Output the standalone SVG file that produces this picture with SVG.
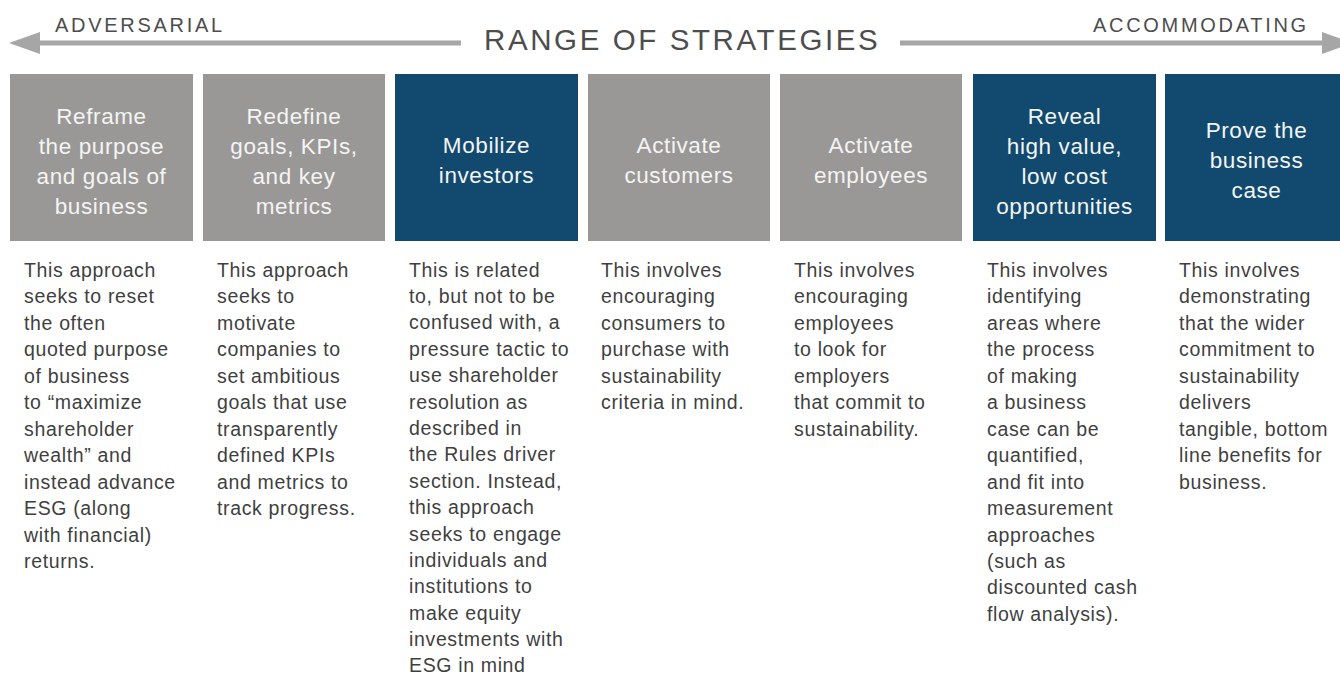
<svg xmlns="http://www.w3.org/2000/svg" width="1340" height="675" viewBox="0 0 1340 675">
<style>
.hdr{font-family:"Liberation Sans",Arial,sans-serif;fill:#4d4d4d}
.side{font-size:20px;letter-spacing:2.7px}
.title{font-size:29.5px;letter-spacing:2.6px}
.gray{fill:#9a9896}
.navy{fill:#114a6e}
.bt{font-family:"Liberation Sans",Arial,sans-serif;font-size:22.5px;letter-spacing:0.6px;fill:#f4f4f4;text-anchor:middle}
.body{font-family:"Liberation Sans",Arial,sans-serif;font-size:19.5px;letter-spacing:0.65px;fill:#3f3f3f}
.arr{stroke:#a6a6a6;stroke-width:5;fill:none}
</style>
<defs>
<marker id="head" markerUnits="userSpaceOnUse" markerWidth="32" markerHeight="22" refX="0" refY="11" orient="auto">
<polygon points="0,0 31,11 0,22" fill="#a6a6a6"/>
</marker>
</defs>
<rect width="1340" height="675" fill="#ffffff"/>
<g id="connectors">
<line class="arr" x1="461" y1="43" x2="40" y2="43" marker-end="url(#head)"/>
<line class="arr" x1="900" y1="43" x2="1322" y2="43" marker-end="url(#head)"/>
</g>
<g id="header">
<text class="hdr side" x="55" y="32">ADVERSARIAL</text>
<text class="hdr title" x="484" y="50">RANGE OF STRATEGIES</text>
<text class="hdr side" x="1093" y="32">ACCOMMODATING</text>
</g>
<g id="n1">
<rect class="gray" x="10" y="74" width="183" height="167"/>
<text class="bt"><tspan x="101.5" y="124">Reframe</tspan><tspan x="101.5" y="154">the purpose</tspan><tspan x="101.5" y="184">and goals of</tspan><tspan x="101.5" y="214">business</tspan></text>
<text class="body"><tspan x="24" y="277">This approach</tspan><tspan x="24" dy="26.45">seeks to reset</tspan><tspan x="24" dy="26.45">the often</tspan><tspan x="24" dy="26.45">quoted purpose</tspan><tspan x="24" dy="26.45">of business</tspan><tspan x="24" dy="26.45">to “maximize</tspan><tspan x="24" dy="26.45">shareholder</tspan><tspan x="24" dy="26.45">wealth” and</tspan><tspan x="24" dy="26.45">instead advance</tspan><tspan x="24" dy="26.45">ESG (along</tspan><tspan x="24" dy="26.45">with financial)</tspan><tspan x="24" dy="26.45">returns.</tspan></text>
</g>
<g id="n2">
<rect class="gray" x="203" y="74" width="182" height="167"/>
<text class="bt"><tspan x="294" y="124">Redefine</tspan><tspan x="294" y="154">goals, KPIs,</tspan><tspan x="294" y="184">and key</tspan><tspan x="294" y="214">metrics</tspan></text>
<text class="body"><tspan x="217" y="277">This approach</tspan><tspan x="217" dy="26.45">seeks to</tspan><tspan x="217" dy="26.45">motivate</tspan><tspan x="217" dy="26.45">companies to</tspan><tspan x="217" dy="26.45">set ambitious</tspan><tspan x="217" dy="26.45">goals that use</tspan><tspan x="217" dy="26.45">transparently</tspan><tspan x="217" dy="26.45">defined KPIs</tspan><tspan x="217" dy="26.45">and metrics to</tspan><tspan x="217" dy="26.45">track progress.</tspan></text>
</g>
<g id="n3">
<rect class="navy" x="395" y="74" width="183" height="167"/>
<text class="bt"><tspan x="486.5" y="153">Mobilize</tspan><tspan x="486.5" y="183">investors</tspan></text>
<text class="body"><tspan x="409" y="276.5">This is related</tspan><tspan x="409" dy="26.4">to, but not to be</tspan><tspan x="409" dy="26.4">confused with, a</tspan><tspan x="409" dy="26.4">pressure tactic to</tspan><tspan x="409" dy="26.4">use shareholder</tspan><tspan x="409" dy="26.4">resolution as</tspan><tspan x="409" dy="26.4">described in</tspan><tspan x="409" dy="26.4">the Rules driver</tspan><tspan x="409" dy="26.4">section. Instead,</tspan><tspan x="409" dy="26.4">this approach</tspan><tspan x="409" dy="26.4">seeks to engage</tspan><tspan x="409" dy="26.4">individuals and</tspan><tspan x="409" dy="26.4">institutions to</tspan><tspan x="409" dy="26.4">make equity</tspan><tspan x="409" dy="26.4">investments with</tspan><tspan x="409" dy="26.4">ESG in mind</tspan></text>
</g>
<g id="n4">
<rect class="gray" x="588" y="74" width="182" height="167"/>
<text class="bt"><tspan x="679" y="153">Activate</tspan><tspan x="679" y="183">customers</tspan></text>
<text class="body"><tspan x="601" y="277">This involves</tspan><tspan x="601" dy="26.45">encouraging</tspan><tspan x="601" dy="26.45">consumers to</tspan><tspan x="601" dy="26.45">purchase with</tspan><tspan x="601" dy="26.45">sustainability</tspan><tspan x="601" dy="26.45">criteria in mind.</tspan></text>
</g>
<g id="n5">
<rect class="gray" x="780" y="74" width="182" height="167"/>
<text class="bt"><tspan x="871" y="153">Activate</tspan><tspan x="871" y="183">employees</tspan></text>
<text class="body"><tspan x="794" y="277">This involves</tspan><tspan x="794" dy="26.45">encouraging</tspan><tspan x="794" dy="26.45">employees</tspan><tspan x="794" dy="26.45">to look for</tspan><tspan x="794" dy="26.45">employers</tspan><tspan x="794" dy="26.45">that commit to</tspan><tspan x="794" dy="26.45">sustainability.</tspan></text>
</g>
<g id="n6">
<rect class="navy" x="973" y="74" width="183" height="167"/>
<text class="bt"><tspan x="1064.5" y="124">Reveal</tspan><tspan x="1064.5" y="154">high value,</tspan><tspan x="1064.5" y="184">low cost</tspan><tspan x="1064.5" y="214">opportunities</tspan></text>
<text class="body"><tspan x="987" y="277">This involves</tspan><tspan x="987" dy="26.45">identifying</tspan><tspan x="987" dy="26.45">areas where</tspan><tspan x="987" dy="26.45">the process</tspan><tspan x="987" dy="26.45">of making</tspan><tspan x="987" dy="26.45">a business</tspan><tspan x="987" dy="26.45">case can be</tspan><tspan x="987" dy="26.45">quantified,</tspan><tspan x="987" dy="26.45">and fit into</tspan><tspan x="987" dy="26.45">measurement</tspan><tspan x="987" dy="26.45">approaches</tspan><tspan x="987" dy="26.45">(such as</tspan><tspan x="987" dy="26.45">discounted cash</tspan><tspan x="987" dy="26.45">flow analysis).</tspan></text>
</g>
<g id="n7">
<rect class="navy" x="1165" y="74" width="183" height="167"/>
<text class="bt"><tspan x="1256.5" y="138">Prove the</tspan><tspan x="1256.5" y="168">business</tspan><tspan x="1256.5" y="198">case</tspan></text>
<text class="body"><tspan x="1179" y="277">This involves</tspan><tspan x="1179" dy="26.45">demonstrating</tspan><tspan x="1179" dy="26.45">that the wider</tspan><tspan x="1179" dy="26.45">commitment to</tspan><tspan x="1179" dy="26.45">sustainability</tspan><tspan x="1179" dy="26.45">delivers</tspan><tspan x="1179" dy="26.45">tangible, bottom</tspan><tspan x="1179" dy="26.45">line benefits for</tspan><tspan x="1179" dy="26.45">business.</tspan></text>
</g>
</svg>
